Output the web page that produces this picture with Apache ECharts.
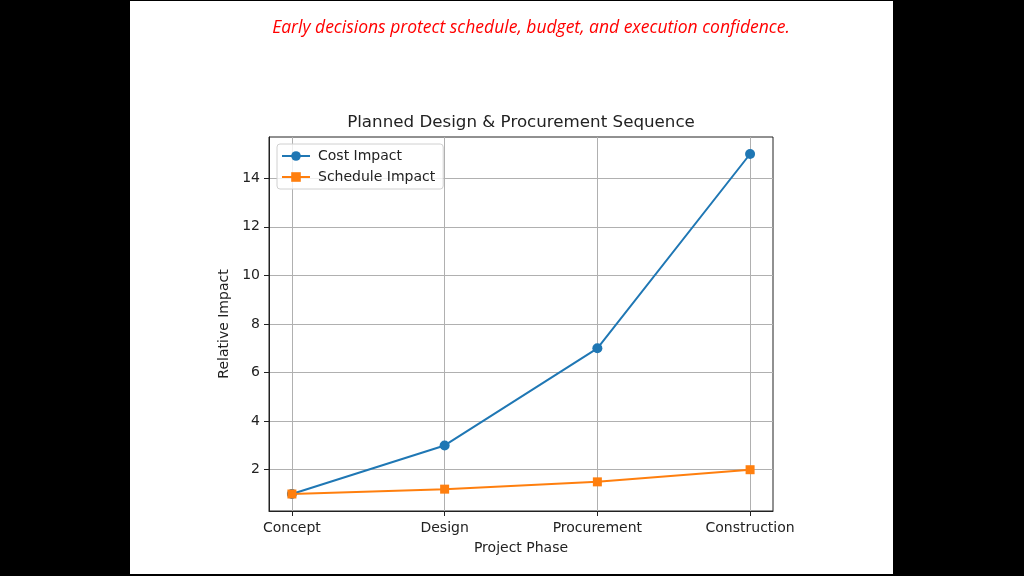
<!DOCTYPE html>
<html>
<head>
<meta charset="utf-8">
<script src="https://cdn.jsdelivr.net/npm/echarts@6/dist/echarts.min.js"></script>
<style>
  html, body { margin: 0; padding: 0; background: #000; }
  #page { position: absolute; left: 130px; top: 1px; width: 763px; height: 573px; background: #fff; }
  #chart { width: 763px; height: 573px; }
</style>
</head>
<body>
<div id="page"><div id="chart"></div></div>
<script>
// phases along the x axis
var phases = ['Concept', 'Design', 'Procurement', 'Construction'];
var phaseIndex = [0, 1, 2, 3];
var costImpact = [1, 3, 7, 15];
var scheduleImpact = [1, 1.2, 1.5, 2];
var yTicks = [2, 4, 6, 8, 10, 12, 14];

var chart = echarts.init(document.getElementById('chart'));
var font = 'DejaVu Sans';

var option = {
  animation: false,
  textStyle: { fontFamily: font },
  graphic: [
    {
      type: 'text', x: 401, y: 27,
      style: {
        text: 'Early decisions protect schedule, budget, and execution confidence.',
        fill: '#ff0000', font: 'italic 17.5px "Open Sans"', textAlign: 'center', textVerticalAlign: 'middle'
      }
    },
    {
      type: 'text', x: 391, y: 122,
      style: {
        text: 'Planned Design & Procurement Sequence',
        fill: '#222', font: '16.7px "DejaVu Sans"', textAlign: 'center', textVerticalAlign: 'middle'
      }
    }
  ],
  grid: {
    left: 139, right: 120, top: 136, bottom: 63,
    show: true, borderColor: '#222', borderWidth: 1, backgroundColor: 'transparent'
  },
  legend: {
    orient: 'vertical', left: 147, top: 143,
    data: ['Cost Impact', 'Schedule Impact'],
    itemWidth: 28, itemHeight: 12, itemGap: 7,
    padding: [5, 8, 5, 4],
    borderColor: '#d0d0d0', borderWidth: 1, borderRadius: 3,
    backgroundColor: 'rgba(255,255,255,0.8)',
    textStyle: { fontFamily: font, fontSize: 14, color: '#222', padding: [0, 0, 0, 3] }
  },
  xAxis: {
    type: 'value', min: -0.15, max: 3.15,
    name: 'Project Phase', nameLocation: 'middle', nameGap: 30,
    nameTextStyle: { fontFamily: font, fontSize: 14, color: '#222' },
    axisLine: { show: true, onZero: false, lineStyle: { color: '#222', width: 1 } },
    axisTick: { show: true, customValues: phaseIndex, length: 5, inside: false, lineStyle: { color: '#222' } },
    axisLabel: {
      customValues: phaseIndex, margin: 10, color: '#222', fontSize: 14, fontFamily: font,
      formatter: function (v) { return phases[Math.round(v)]; }
    },
    splitLine: { show: true, lineStyle: { color: '#b0b0b0', width: 1 } }
  },
  yAxis: {
    type: 'value', min: 0.3, max: 15.7,
    name: 'Relative Impact', nameLocation: 'middle', nameGap: 34, nameRotate: 90,
    nameTextStyle: { fontFamily: font, fontSize: 14, color: '#222' },
    axisLine: { show: true, onZero: false, lineStyle: { color: '#222', width: 1 } },
    axisTick: { show: true, customValues: yTicks, length: 5, inside: false, lineStyle: { color: '#222' } },
    axisLabel: { customValues: yTicks, margin: 9, color: '#222', fontSize: 14, fontFamily: font },
    splitLine: { show: true, lineStyle: { color: '#b0b0b0', width: 1 } }
  },
  series: [
    {
      name: 'Cost Impact', type: 'line',
      data: phaseIndex.map(function (x, i) { return [x, costImpact[i]]; }),
      symbol: 'circle', symbolSize: 10, color: '#1f77b4',
      lineStyle: { width: 2 }, z: 3
    },
    {
      name: 'Schedule Impact', type: 'line',
      data: phaseIndex.map(function (x, i) { return [x, scheduleImpact[i]]; }),
      symbol: 'rect', symbolSize: 9, color: '#ff7f0e',
      lineStyle: { width: 2 }, z: 4
    }
  ]
};
chart.setOption(option);
</script>
</body>
</html>
